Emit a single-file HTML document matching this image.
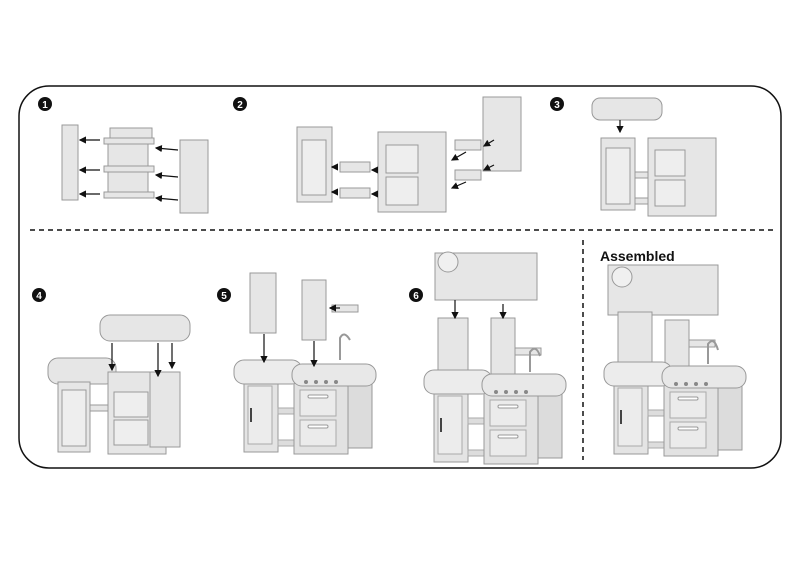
<!DOCTYPE html>
<html><head><meta charset="utf-8"><style>
html,body{margin:0;padding:0;background:#fff;width:800px;height:585px;overflow:hidden}
svg{display:block}
</style></head><body>
<svg width="800" height="585" viewBox="0 0 800 585" xmlns="http://www.w3.org/2000/svg">
<defs>
<marker id="ah" markerWidth="6" markerHeight="6" refX="5" refY="3" orient="auto"><path d="M0,0 L6,3 L0,6 z" fill="#111"/></marker>
<g id="base">
  <rect x="10" y="20" width="34" height="72" fill="#e4e4e4" stroke="#999"/>
  <rect x="14" y="26" width="24" height="58" fill="#ececec" stroke="#aaa"/>
  <rect x="16" y="48" width="2" height="14" fill="#444"/>
  <rect x="44" y="48" width="18" height="6" fill="#ddd" stroke="#aaa"/>
  <rect x="44" y="80" width="18" height="6" fill="#ddd" stroke="#aaa"/>
  <rect x="60" y="20" width="54" height="74" fill="#e2e2e2" stroke="#999"/>
  <rect x="66" y="30" width="36" height="26" fill="#ebebeb" stroke="#aaa"/>
  <rect x="66" y="60" width="36" height="26" fill="#ebebeb" stroke="#aaa"/>
  <rect x="74" y="35" width="20" height="3" rx="1.5" fill="#fff" stroke="#999"/>
  <rect x="74" y="65" width="20" height="3" rx="1.5" fill="#fff" stroke="#999"/>
  <rect x="114" y="20" width="24" height="68" fill="#dcdcdc" stroke="#999"/>
  <rect x="0" y="0" width="68" height="24" rx="10" fill="#ececec" stroke="#999"/>
  <rect x="58" y="4" width="84" height="22" rx="10" fill="#e8e8e8" stroke="#999"/>
  <circle cx="72" cy="22" r="2" fill="#888"/><circle cx="82" cy="22" r="2" fill="#888"/><circle cx="92" cy="22" r="2" fill="#888"/><circle cx="102" cy="22" r="2" fill="#888"/>
</g>
</defs>

<rect x="19" y="86" width="762" height="382" rx="30" fill="none" stroke="#111" stroke-width="1.5"/>
<line x1="30" y1="230" x2="775" y2="230" stroke="#111" stroke-width="1.5" stroke-dasharray="5,4"/>
<line x1="583" y1="240" x2="583" y2="460" stroke="#111" stroke-width="1.5" stroke-dasharray="5,4"/>

<g font-family="Liberation Sans, sans-serif" font-weight="bold" font-size="10" fill="#fff" text-anchor="middle">
<circle cx="45" cy="104" r="7" fill="#111"/><text x="45" y="108">1</text>
<circle cx="240" cy="104" r="7" fill="#111"/><text x="240" y="108">2</text>
<circle cx="557" cy="104" r="7" fill="#111"/><text x="557" y="108">3</text>
<circle cx="39" cy="295" r="7" fill="#111"/><text x="39" y="299">4</text>
<circle cx="224" cy="295" r="7" fill="#111"/><text x="224" y="299">5</text>
<circle cx="416" cy="295" r="7" fill="#111"/><text x="416" y="299">6</text>
</g>
<text x="600" y="261" font-family="Liberation Sans, sans-serif" font-weight="bold" font-size="14" fill="#111">Assembled</text>

<g fill="#e6e6e6" stroke="#999">
<!-- step 1 -->
<rect x="62" y="125" width="16" height="75"/>
<rect x="110" y="128" width="42" height="10"/>
<rect x="104" y="138" width="50" height="6"/>
<rect x="108" y="144" width="40" height="22"/>
<rect x="104" y="166" width="50" height="6"/>
<rect x="108" y="172" width="40" height="22"/>
<rect x="104" y="192" width="50" height="6"/>
<rect x="180" y="140" width="28" height="73"/>
<!-- step 2 -->
<rect x="297" y="127" width="35" height="75"/>
<rect x="302" y="140" width="24" height="55" fill="#eee"/>
<rect x="340" y="162" width="30" height="10"/>
<rect x="340" y="188" width="30" height="10"/>
<rect x="378" y="132" width="68" height="80"/>
<rect x="386" y="145" width="32" height="28" fill="#eee"/>
<rect x="386" y="177" width="32" height="28" fill="#eee"/>
<rect x="455" y="140" width="26" height="10"/>
<rect x="455" y="170" width="26" height="10"/>
<rect x="483" y="97" width="38" height="74"/>
<!-- step 3 -->
<rect x="592" y="98" width="70" height="22" rx="8"/>
<rect x="601" y="138" width="34" height="72"/>
<rect x="606" y="148" width="24" height="56" fill="#eee"/>
<rect x="635" y="172" width="14" height="6"/>
<rect x="635" y="198" width="14" height="6"/>
<rect x="648" y="138" width="68" height="78"/>
<rect x="655" y="150" width="30" height="26" fill="#eee"/>
<rect x="655" y="180" width="30" height="26" fill="#eee"/>
<!-- step 4 -->
<rect x="100" y="315" width="90" height="26" rx="10"/>
<rect x="48" y="358" width="68" height="26" rx="10"/>
<rect x="58" y="382" width="32" height="70"/>
<rect x="62" y="390" width="24" height="56" fill="#eee"/>
<rect x="90" y="405" width="18" height="6"/>
<rect x="108" y="372" width="58" height="82"/>
<rect x="114" y="392" width="34" height="25" fill="#eee"/>
<rect x="114" y="420" width="34" height="25" fill="#eee"/>
<rect x="150" y="372" width="30" height="75"/>
<!-- step 5 -->
<rect x="250" y="273" width="26" height="60"/>
<rect x="302" y="280" width="24" height="60"/>
<rect x="332" y="305" width="26" height="7"/>
<!-- step 6 -->
<rect x="435" y="253" width="102" height="47"/>
<circle cx="448" cy="262" r="10" fill="#f0f0f0"/>
<rect x="438" y="318" width="30" height="55"/>
<rect x="491" y="318" width="24" height="60"/>
<rect x="515" y="348" width="26" height="7"/>
<!-- assembled -->
<rect x="608" y="265" width="110" height="50"/>
<circle cx="622" cy="277" r="10" fill="#f0f0f0"/>
<rect x="618" y="312" width="34" height="60"/>
<rect x="665" y="320" width="24" height="55"/>
<rect x="689" y="340" width="26" height="7"/>
</g>

<use href="#base" x="234" y="360"/>
<use href="#base" x="424" y="370"/>
<use href="#base" x="604" y="362"/>

<g stroke="#111" stroke-width="1.2" marker-end="url(#ah)">
<line x1="100" y1="140" x2="80" y2="140"/><line x1="100" y1="170" x2="80" y2="170"/><line x1="100" y1="194" x2="80" y2="194"/>
<line x1="178" y1="150" x2="156" y2="148"/><line x1="178" y1="177" x2="156" y2="175"/><line x1="178" y1="200" x2="156" y2="198"/>
<line x1="338" y1="167" x2="332" y2="167"/><line x1="338" y1="192" x2="332" y2="192"/>
<line x1="377" y1="170" x2="372" y2="170"/><line x1="377" y1="194" x2="372" y2="194"/>
<line x1="466" y1="152" x2="452" y2="160"/><line x1="466" y1="182" x2="452" y2="188"/>
<line x1="494" y1="140" x2="484" y2="146"/><line x1="494" y1="165" x2="484" y2="170"/>
<line x1="620" y1="120" x2="620" y2="132"/>
<line x1="112" y1="343" x2="112" y2="370"/><line x1="158" y1="343" x2="158" y2="376"/><line x1="172" y1="343" x2="172" y2="368"/>
<line x1="264" y1="334" x2="264" y2="362"/><line x1="314" y1="341" x2="314" y2="366"/><line x1="340" y1="308" x2="330" y2="308"/>
<line x1="455" y1="300" x2="455" y2="318"/><line x1="503" y1="304" x2="503" y2="318"/>
</g>
<path d="M340,360 L340,338 Q344,330 350,340" fill="none" stroke="#999" stroke-width="2"/>
<path d="M530,372 L530,352 Q536,344 540,356" fill="none" stroke="#999" stroke-width="2"/>
<path d="M708,364 L708,344 Q714,336 718,350" fill="none" stroke="#999" stroke-width="2"/>
</svg>
</body></html>
